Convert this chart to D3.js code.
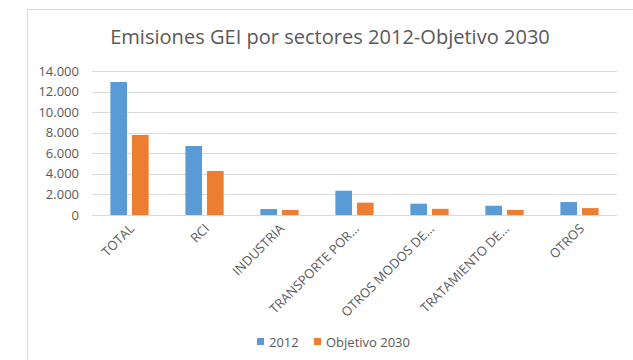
<!DOCTYPE html>
<html><head><meta charset="utf-8">
<script src="https://cdn.jsdelivr.net/npm/d3@7"></script>
<style>
html,body{margin:0;padding:0;background:#fff;}
svg{display:block;font-family:"Open Sans",sans-serif;}
</style></head>
<body>
<svg id="chart" width="633" height="360"></svg>
<script>
const categories = ["TOTAL","RCI","INDUSTRIA","TRANSPORTE POR...","OTROS MODOS DE...","TRATAMIENTO DE...","OTROS"];
const seriesNames = ["2012","Objetivo 2030"];
const values2012 = [12930, 6710, 580, 2360, 1100, 900, 1260];
const values2030 = [7780, 4280, 490, 1200, 600, 500, 670];
const yTicks = [0,2000,4000,6000,8000,10000,12000,14000];
const tickLabels = ["0","2.000","4.000","6.000","8.000","10.000","12.000","14.000"];
const colors = ["#5B9BD5","#ED7D31"];

(function(){
const svg = d3.select("#chart");
svg.append("rect").attr("x",27.5).attr("y",9.5).attr("width",640).attr("height",400)
  .attr("fill","#fff").attr("stroke","#d9d9d9").attr("stroke-width",1);

const pLeft=92, pRight=617, pTop=71, pBottom=215;
const x0 = d3.scaleBand().domain(categories).range([pLeft,pRight]).paddingInner(0.49).paddingOuter(0.245);
const x1 = d3.scaleBand().domain(seriesNames).range([0,x0.bandwidth()]).paddingInner(0.23);
const y = d3.scaleLinear().domain([0,14000]).range([pBottom,pTop]);

svg.append("g").selectAll("line").data(yTicks).join("line")
  .attr("x1",pLeft).attr("x2",pRight)
  .attr("y1",d=>Math.round(y(d))+0.5).attr("y2",d=>Math.round(y(d))+0.5)
  .attr("stroke","#d9d9d9").attr("stroke-width",1);

svg.append("g").selectAll("text").data(yTicks).join("text")
  .attr("x",79).attr("y",d=>y(d)).attr("dy","0.35em")
  .attr("text-anchor","end").attr("fill","#595959").attr("font-size","13px")
  .text((d,i)=>tickLabels[i]);

const data = categories.map((c,i)=>({c, vals:[values2012[i],values2030[i]]}));
const g = svg.append("g").selectAll("g").data(data).join("g")
  .attr("transform",d=>`translate(${x0(d.c)},0)`);
g.selectAll("rect").data(d=>d.vals.map((v,j)=>({v,s:seriesNames[j],j})))
  .join("rect")
  .attr("x",d=>x1(d.s)).attr("width",x1.bandwidth())
  .attr("y",d=>y(d.v)).attr("height",d=>y(0)-y(d.v))
  .attr("fill",d=>colors[d.j]);

svg.append("g").selectAll("text").data(categories).join("text")
  .attr("transform",d=>`translate(${x0(d)+x0.bandwidth()/2},${pBottom+9}) rotate(-45)`)
  .attr("text-anchor","end").attr("dy","0.6em")
  .attr("fill","#595959").attr("font-size","13px")
  .text(d=>d);

const title = svg.append("text").attr("x",330).attr("y",44).attr("text-anchor","middle")
  .attr("fill","#595959").attr("font-size","19px").text("Emisiones GEI por sectores 2012-Objetivo 2030");
const tw = title.node().getComputedTextLength();
title.attr("font-size", (19*440/tw)+"px");

const leg = svg.append("g");
const items = [{x:257,t:seriesNames[0]},{x:314,t:seriesNames[1]}];
items.forEach((it,i)=>{
  leg.append("rect").attr("x",it.x).attr("y",338).attr("width",7).attr("height",7).attr("fill",colors[i]);
  leg.append("text").attr("x",it.x+12).attr("y",342).attr("dy","0.35em")
    .attr("fill","#595959").attr("font-size","13px").text(it.t);
});
})();
</script>
</body></html>
